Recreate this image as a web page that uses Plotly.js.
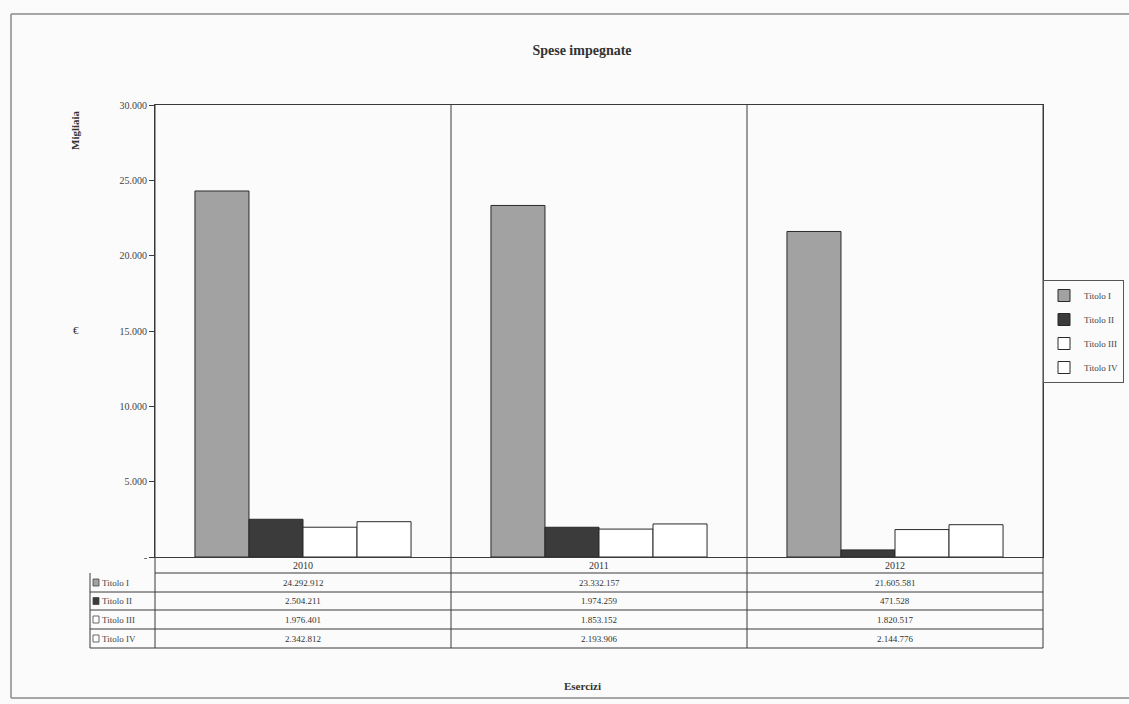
<!DOCTYPE html>
<html>
<head>
<meta charset="utf-8">
<script src="https://cdn.plot.ly/plotly-3.0.1.min.js"></script>
<style>
html,body{margin:0;padding:0;background:#fafbfa;}
#chart{width:1129px;height:704px;}
</style>
</head>
<body>
<div id="chart"></div>
<script>
// ---- data ----
var categories = ['2010', '2011', '2012'];
var seriesNames = ['Titolo I', 'Titolo II', 'Titolo III', 'Titolo IV'];
var titoloI   = [24292912, 23332157, 21605581];
var titoloII  = [2504211, 1974259, 471528];
var titoloIII = [1976401, 1853152, 1820517];
var titoloIV  = [2342812, 2193906, 2144776];
var tickValues = [0, 5000, 10000, 15000, 20000, 25000, 30000];
var tickLabels = ['-', '5.000', '10.000', '15.000', '20.000', '25.000', '30.000'];
var chartTitle = 'Spese impegnate';
var xTitle = 'Esercizi';
var yTitleTop = 'Migliaia';
var yTitleMid = '€';

// ---- styles ----
var seriesValues = [titoloI, titoloII, titoloIII, titoloIV];
var fills = ['#a2a2a2', '#3b3b3b', '#ffffff', '#ffffff'];
var serif = 'Liberation Serif, Times New Roman, serif';
var lineCol = '#3a3a3a';

function fmt(v) {
  return String(v).replace(/\B(?=(\d{3})+(?!\d))/g, '.');
}

var traces = seriesValues.map(function (vals, i) {
  return {
    type: 'bar',
    name: seriesNames[i],
    x: categories,
    y: vals.map(function (v) { return v / 1000; }),
    marker: { color: fills[i], line: { color: '#2a2a2a', width: 1 } },
    legendgroup: 'g' + i,
    hoverinfo: 'none'
  };
});

// plot geometry helpers (paper coords)
var plotLeftPx = 155, plotRightPx = 1043, plotTopPx = 105, plotBottomPx = 557;
var pw = plotRightPx - plotLeftPx, ph = plotBottomPx - plotTopPx;
function px2x(p) { return (p - plotLeftPx) / pw; }
function py2y(p) { return (plotBottomPx - p) / ph; }

var rowLines = [557, 573, 592, 610, 629, 648];
var shapes = [];
var annotations = [];

// horizontal lines of table
rowLines.forEach(function (r, k) {
  if (k === 0) return;
  shapes.push({ type: 'line', xref: 'paper', yref: 'paper',
    x0: k === 1 ? 0 : px2x(90), x1: 1, y0: py2y(r), y1: py2y(r),
    line: { color: lineCol, width: 1 } });
});
// key column left edge
shapes.push({ type: 'line', xref: 'paper', yref: 'paper', x0: px2x(90), x1: px2x(90),
  y0: py2y(573), y1: py2y(648), line: { color: lineCol, width: 1 } });
// left and right verticals extended through table
[0, 1].forEach(function (xx) {
  shapes.push({ type: 'line', xref: 'paper', yref: 'paper', x0: xx, x1: xx,
    y0: py2y(648), y1: 1, line: { color: lineCol, width: 1 } });
});
// category separators
for (var c = 1; c < categories.length; c++) {
  shapes.push({ type: 'line', xref: 'paper', yref: 'paper', x0: c / categories.length, x1: c / categories.length,
    y0: py2y(648), y1: 1, line: { color: lineCol, width: 1 } });
}
// outer border (top, left, bottom)
shapes.push({ type: 'line', xref: 'paper', yref: 'paper', x0: px2x(11), x1: px2x(1129),
  y0: py2y(14), y1: py2y(14), line: { color: '#8a8a8a', width: 1.5 } });
shapes.push({ type: 'line', xref: 'paper', yref: 'paper', x0: px2x(11), x1: px2x(11),
  y0: py2y(14), y1: py2y(698), line: { color: '#8a8a8a', width: 1.5 } });
shapes.push({ type: 'line', xref: 'paper', yref: 'paper', x0: px2x(11), x1: px2x(1129),
  y0: py2y(698), y1: py2y(698), line: { color: '#8a8a8a', width: 1.5 } });

// year row
categories.forEach(function (cat, j) {
  annotations.push({ xref: 'paper', yref: 'paper', x: (j + 0.5) / categories.length,
    y: py2y(565), text: cat, showarrow: false, xanchor: 'center', yanchor: 'middle',
    font: { family: serif, size: 10, color: '#333' } });
});
// series rows
seriesNames.forEach(function (nm, i) {
  var yc = py2y((rowLines[i + 1] + rowLines[i + 2]) / 2);
  var sq = 3.5 / ph;
  shapes.push({ type: 'rect', xref: 'paper', yref: 'paper',
    x0: px2x(93), x1: px2x(99), y0: yc - sq, y1: yc + sq,
    fillcolor: fills[i], line: { color: '#444', width: 0.8 } });
  annotations.push({ xref: 'paper', yref: 'paper', x: px2x(100), y: yc, text: nm,
    showarrow: false, xanchor: 'left', yanchor: 'middle',
    font: { family: serif, size: 9, color: '#444' } });
  categories.forEach(function (cat, j) {
    annotations.push({ xref: 'paper', yref: 'paper', x: (j + 0.5) / categories.length,
      y: yc, text: fmt(seriesValues[i][j]), showarrow: false, xanchor: 'center', yanchor: 'middle',
      font: { family: serif, size: 9, color: '#333' } });
  });
});
// axis titles
annotations.push({ xref: 'paper', yref: 'paper', x: px2x(75), y: py2y(130), text: '<b>' + yTitleTop + '</b>',
  textangle: -90, showarrow: false, xanchor: 'center', yanchor: 'middle',
  font: { family: serif, size: 11, color: '#333' } });
annotations.push({ xref: 'paper', yref: 'paper', x: px2x(76), y: py2y(330), text: yTitleMid,
  showarrow: false, xanchor: 'center', yanchor: 'middle',
  font: { family: serif, size: 11, color: '#333' } });
annotations.push({ xref: 'paper', yref: 'paper', x: px2x(582), y: py2y(686), text: '<b>' + xTitle + '</b>',
  showarrow: false, xanchor: 'center', yanchor: 'middle',
  font: { family: serif, size: 11, color: '#333' } });

var layout = {
  width: 1129, height: 704,
  margin: { l: plotLeftPx, r: 1129 - plotRightPx, t: plotTopPx, b: 704 - plotBottomPx, pad: 0, autoexpand: false },
  paper_bgcolor: '#fafbfa',
  plot_bgcolor: '#fafbfa',
  title: { text: '<b>' + chartTitle + '</b>', x: (582 / 1129), xanchor: 'center',
    y: 1 - 50 / 704, yanchor: 'middle', font: { family: serif, size: 14, color: '#333' } },
  barmode: 'group',
  bargap: 0.27,
  bargroupgap: 0,
  showlegend: true,
  legend: {
    x: px2x(1043), y: py2y(280), xanchor: 'left', yanchor: 'top',
    bgcolor: '#fafbfa', bordercolor: '#555', borderwidth: 1,
    font: { family: serif, size: 9, color: '#444' },
    tracegroupgap: 5, itemwidth: 30
  },
  xaxis: {
    type: 'category', categoryarray: categories,
    showticklabels: false, ticks: '', showgrid: false, zeroline: false,
    showline: true, linecolor: lineCol, linewidth: 1, mirror: true,
    fixedrange: true
  },
  yaxis: {
    range: [0, 30000], tickvals: tickValues, ticktext: tickLabels,
    ticks: 'outside', ticklen: 5, tickcolor: lineCol,
    showgrid: false, zeroline: false,
    showline: true, linecolor: lineCol, linewidth: 1, mirror: true,
    tickfont: { family: serif, size: 10, color: '#444' },
    fixedrange: true
  },
  shapes: shapes,
  annotations: annotations
};

Plotly.newPlot('chart', traces, layout, { displayModeBar: false, staticPlot: true });
</script>
</body>
</html>
